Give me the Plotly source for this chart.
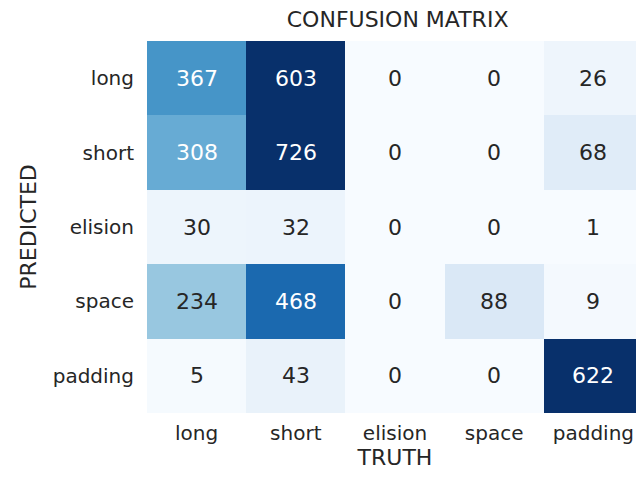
import plotly.graph_objects as go

truth = ["long", "short", "elision", "space", "padding"]
predicted = ["long", "short", "elision", "space", "padding"]
counts = [
    [367, 603, 0, 0, 26],
    [308, 726, 0, 0, 68],
    [30, 32, 0, 0, 1],
    [234, 468, 0, 88, 9],
    [5, 43, 0, 0, 622],
]

# matplotlib "Blues"
blues = [
    [0.0, "rgb(247,251,255)"], [0.125, "rgb(222,235,247)"], [0.25, "rgb(198,219,239)"],
    [0.375, "rgb(158,202,225)"], [0.5, "rgb(107,174,214)"], [0.625, "rgb(66,146,198)"],
    [0.75, "rgb(33,113,181)"], [0.875, "rgb(8,81,156)"], [1.0, "rgb(8,48,107)"],
]
vmax = 600

fig = go.Figure(go.Heatmap(
    z=counts, x=truth, y=predicted,
    colorscale=blues, zmin=0, zmax=vmax,
    showscale=False, hoverinfo="z",
))

annotations = []
for i, row in enumerate(counts):
    for j, v in enumerate(row):
        annotations.append(dict(
            x=truth[j], y=predicted[i], text=str(v), showarrow=False,
            font=dict(size=22, color="white" if v / vmax > 0.45 else "#262626"),
        ))

fig.update_layout(
    width=644, height=477,
    margin=dict(l=139, r=9, t=33, b=72),
    paper_bgcolor="white", plot_bgcolor="white",
    font=dict(family="DejaVu Sans", color="#262626", size=20),
    title=dict(text="CONFUSION MATRIX", x=0.605, xanchor="center", y=0.992, yanchor="top",
               font=dict(size=22)),
    xaxis=dict(title=dict(text="TRUTH", font=dict(size=22), standoff=4),
               showgrid=False, ticks="", zeroline=False, ticklabelstandoff=6),
    yaxis=dict(title=dict(text="PREDICTED", font=dict(size=22), standoff=10),
               autorange="reversed", showgrid=False, ticks="", zeroline=False,
               ticklabelstandoff=12),
    annotations=annotations,
)

fig.write_html("out.html")
